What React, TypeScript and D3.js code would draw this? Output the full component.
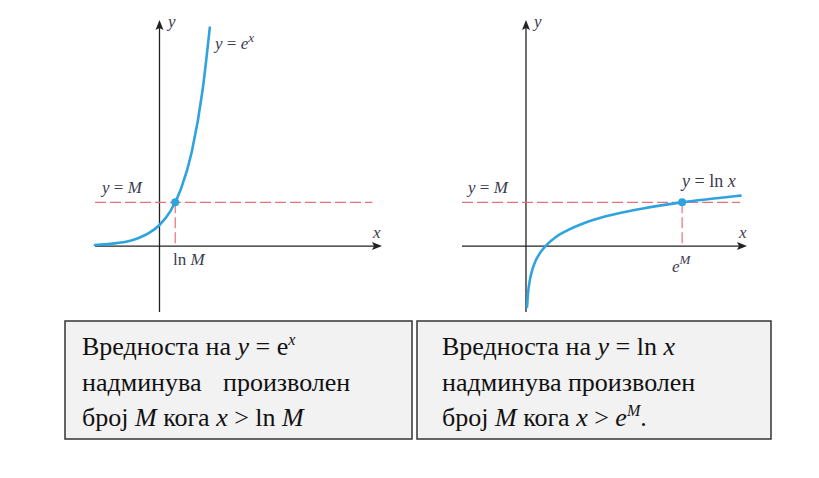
import { useEffect, useRef } from 'react'
import * as d3 from 'd3'

// values (data units)
const M = 2.08
const EXP_X = [-3, -2.5, -2, -1.5, -1, -0.5, 0, 0.5, 1, 1.5, 2, 2.34]
const EXP_Y = [0.05, 0.08, 0.14, 0.22, 0.37, 0.61, 1, 1.65, 2.72, 4.48, 7.39, 10.4]
const LN_X = [0.055, 0.1, 0.2, 0.35, 0.5, 0.75, 1, 1.5, 2, 3, 4, 5, 6, 8, 10, 11]
const LN_Y = [-2.9, -2.3, -1.61, -1.05, -0.69, -0.29, 0, 0.41, 0.69, 1.1, 1.39, 1.61, 1.79, 2.08, 2.3, 2.4]

const LEFT_LINES = ['Вредноста на', 'надминува', 'произволен', 'број', 'кога']
const RIGHT_LINES = ['Вредноста на', 'надминува произволен', 'број', 'кога']

const BLUE = '#2fa3dd'
const RED = '#e9707a'
const LABEL = '#3b3b4f'
const SERIF = '"Times New Roman", "Liberation Serif"'

export default function App() {
  const ref = useRef<SVGSVGElement>(null)

  useEffect(() => {
    const svg = d3.select(ref.current)
    svg.selectAll('*').remove()

    const y = d3.scaleLinear().domain([-3.14, 10.76]).range([312, 20])

    const panel = (
      x: d3.ScaleLinear<number, number>,
      xs: number[], ys: number[],
      dashEnd: number, crossX: number,
    ) => {
      const g = svg.append('g')
      const [x0, x1] = x.domain()
      // axes
      g.append('line').attr('x1', x(x0)).attr('x2', x(x1) - 6).attr('y1', y(0)).attr('y2', y(0))
        .attr('stroke', '#222').attr('stroke-width', 1.3)
      g.append('line').attr('x1', x(0)).attr('x2', x(0)).attr('y1', y(-3.14)).attr('y2', y(10.76) + 6)
        .attr('stroke', '#222').attr('stroke-width', 1.3)
      g.append('path')
        .attr('d', `M${x(x1)},${y(0)} L${x(x1) - 10},${y(0) - 4} L${x(x1) - 8},${y(0)} L${x(x1) - 10},${y(0) + 4} Z`)
        .attr('fill', '#222')
      g.append('path')
        .attr('d', `M${x(0)},${y(10.76)} L${x(0) - 4},${y(10.76) + 10} L${x(0)},${y(10.76) + 8} L${x(0) + 4},${y(10.76) + 10} Z`)
        .attr('fill', '#222')

      // dashed guides
      g.append('line').attr('x1', x(x0)).attr('x2', x(dashEnd)).attr('y1', y(M)).attr('y2', y(M))
        .attr('stroke', RED).attr('stroke-width', 1.2).attr('stroke-dasharray', '11 4')
      g.append('line').attr('x1', x(crossX)).attr('x2', x(crossX)).attr('y1', y(M)).attr('y2', y(0))
        .attr('stroke', RED).attr('stroke-width', 1.2).attr('stroke-dasharray', '11 4')

      const pts = xs.map((v, i) => [v, ys[i]] as [number, number])
      const line = d3.line<[number, number]>().x(d => x(d[0])).y(d => y(d[1])).curve(d3.curveMonotoneX)
      g.append('path').attr('d', line(pts)).attr('fill', 'none')
        .attr('stroke', BLUE).attr('stroke-width', 2.6).attr('stroke-linecap', 'round')
      g.append('circle').attr('cx', x(crossX)).attr('cy', y(M)).attr('r', 4).attr('fill', BLUE)
      return g
    }

    const xL = d3.scaleLinear().domain([-3, 10.35]).range([95, 382])
    const xR = d3.scaleLinear().domain([-3.28, 11.33]).range([462, 747])
    const gL = panel(xL, EXP_X, EXP_Y, 9.9, Math.log(M))
    const gR = panel(xR, LN_X, LN_Y, 10.97, Math.exp(M))

    const label = (g: any, xp: number, yp: number) =>
      g.append('text').attr('x', xp).attr('y', yp)
        .attr('font-size', 17).attr('fill', LABEL)

    const yEqM = (g: any, xp: number) => {
      const t = label(g, xp, 193)
      t.append('tspan').attr('font-style', 'italic').text('y')
      t.append('tspan').text(' = ')
      t.append('tspan').attr('font-style', 'italic').text('M')
    }

    // left labels
    label(gL, 168, 27).attr('font-style', 'italic').text('y')
    label(gL, 373, 238).attr('font-style', 'italic').text('x')
    yEqM(gL, 102)
    {
      const t = label(gL, 215, 49)
      t.append('tspan').attr('font-style', 'italic').text('y')
      t.append('tspan').text(' = ')
      t.append('tspan').attr('font-style', 'italic').text('e')
      t.append('tspan').attr('font-style', 'italic').attr('font-size', 13).attr('dy', -7).text('x')
    }
    {
      const t = label(gL, 173, 265)
      t.append('tspan').text('ln ')
      t.append('tspan').attr('font-style', 'italic').text('M')
    }

    // right labels
    label(gR, 534, 27).attr('font-style', 'italic').text('y')
    label(gR, 739, 238).attr('font-style', 'italic').text('x')
    yEqM(gR, 468)
    {
      const t = label(gR, 682, 187).attr('font-size', 18)
      t.append('tspan').attr('font-style', 'italic').text('y')
      t.append('tspan').text(' = ln ')
      t.append('tspan').attr('font-style', 'italic').text('x')
    }
    {
      const t = label(gR, 672, 272)
      t.append('tspan').attr('font-style', 'italic').text('e')
      t.append('tspan').attr('font-style', 'italic').attr('font-size', 13).attr('dy', -8).text('M')
    }

    // caption boxes
    const box = (bx: number, bw: number) =>
      svg.append('rect').attr('x', bx).attr('y', 321).attr('width', bw).attr('height', 118)
        .attr('fill', '#f2f2f2').attr('stroke', '#333').attr('stroke-width', 1.5)
    box(65, 347)
    box(417, 354)

    const fs = 26
    const sup = 16
    const base = [355, 391, 426]

    const txt = (xp: number, yp: number) =>
      svg.append('text').attr('x', xp).attr('y', yp)
        .attr('font-size', fs).attr('fill', '#111')

    // left caption
    {
      const t = txt(82, base[0])
      t.append('tspan').text(LEFT_LINES[0] + ' ')
      t.append('tspan').attr('font-style', 'italic').text('y')
      t.append('tspan').text(' = e')
      t.append('tspan').attr('font-style', 'italic').attr('font-size', sup).attr('dy', -10).text('x')
      txt(82, base[1]).text(LEFT_LINES[1])
      txt(223, base[1]).text(LEFT_LINES[2])
      const t3 = txt(82, base[2])
      t3.append('tspan').text(LEFT_LINES[3] + ' ')
      t3.append('tspan').attr('font-style', 'italic').text('M')
      t3.append('tspan').text(' ' + LEFT_LINES[4] + ' ')
      t3.append('tspan').attr('font-style', 'italic').text('x')
      t3.append('tspan').text(' > ln ')
      t3.append('tspan').attr('font-style', 'italic').text('M')
    }
    // right caption
    {
      const t = txt(442, base[0])
      t.append('tspan').text(RIGHT_LINES[0] + ' ')
      t.append('tspan').attr('font-style', 'italic').text('y')
      t.append('tspan').text(' = ln ')
      t.append('tspan').attr('font-style', 'italic').text('x')
      txt(442, base[1]).text(RIGHT_LINES[1])
      const t3 = txt(442, base[2])
      t3.append('tspan').text(RIGHT_LINES[2] + ' ')
      t3.append('tspan').attr('font-style', 'italic').text('M')
      t3.append('tspan').text(' ' + RIGHT_LINES[3] + ' ')
      t3.append('tspan').attr('font-style', 'italic').text('x')
      t3.append('tspan').text(' > ')
      t3.append('tspan').attr('font-style', 'italic').text('e')
      t3.append('tspan').attr('font-style', 'italic').attr('font-size', sup).attr('dy', -10).text('M')
      t3.append('tspan').attr('dy', 10).text('.')
    }
  }, [])

  return (
    <svg ref={ref} width={819} height={478}
      style={{ position: 'absolute', left: 0, top: 0, background: '#fff', fontFamily: SERIF }} />
  )
}
